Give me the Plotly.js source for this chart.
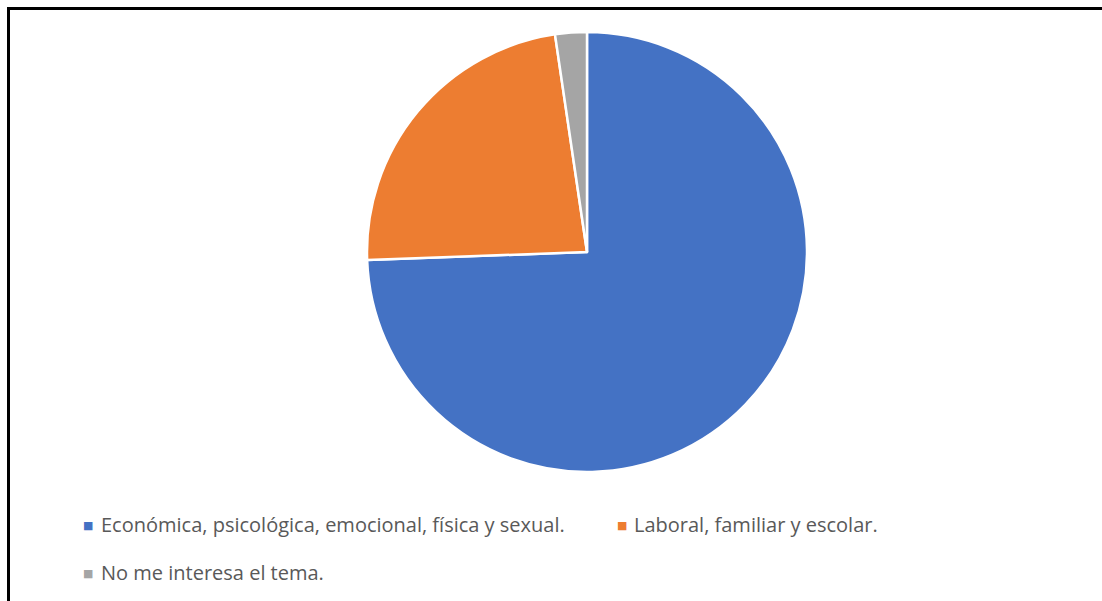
<!DOCTYPE html>
<html>
<head>
<meta charset="utf-8">
<script src="https://cdn.plot.ly/plotly-3.0.1.min.js"></script>
<style>
  html, body { margin: 0; padding: 0; background: #ffffff; overflow: hidden; }
  #chart { width: 1102px; height: 601px; }
</style>
</head>
<body>
<div id="chart"></div>
<script>
const labels = [
  "Económica, psicológica, emocional, física y sexual.",
  "Laboral, familiar y escolar.",
  "No me interesa el tema."
];
const values = [32, 10, 1];
const colors = ["#4472C4", "#ED7D31", "#A5A5A5"];

const W = 1102, H = 601;
const px = x => x / W;
const py = y => 1 - y / H;

// legend entry positions (pixels): marker x, text x, row y
const legendPos = [
  { mx: 88, tx: 99, y: 524 },
  { mx: 622, tx: 632, y: 524 },
  { mx: 88, tx: 99, y: 572 }
];

const annotations = [];
labels.forEach((lab, i) => {
  const p = legendPos[i];
  annotations.push({
    xref: "paper", yref: "paper",
    x: px(p.mx), y: py(p.y + 1),
    xanchor: "center", yanchor: "middle",
    text: "■", showarrow: false,
    font: { family: "DejaVu Sans", size: 11, color: colors[i] }
  });
  annotations.push({
    xref: "paper", yref: "paper",
    x: px(p.tx), y: py(p.y),
    xanchor: "left", yanchor: "middle",
    text: lab, showarrow: false,
    font: { family: "Open Sans, sans-serif", size: 20, color: "#595959" }
  });
});

const trace = {
  type: "pie",
  labels: labels,
  values: values,
  sort: false,
  direction: "clockwise",
  rotation: 0,
  textinfo: "none",
  hoverinfo: "label+value+percent",
  marker: { colors: colors, line: { color: "#ffffff", width: 2.5 } },
  domain: { x: [px(367), px(807)], y: [py(472), py(32)] },
  showlegend: false
};

const layout = {
  width: W, height: H,
  margin: { l: 0, r: 0, t: 0, b: 0 },
  paper_bgcolor: "#ffffff",
  plot_bgcolor: "#ffffff",
  showlegend: false,
  annotations: annotations,
  shapes: [
    { type: "line", xref: "paper", yref: "paper", x0: px(8.5), x1: 1, y0: py(8.5), y1: py(8.5), line: { color: "#000000", width: 3 } },
    { type: "line", xref: "paper", yref: "paper", x0: px(8.5), x1: px(8.5), y0: py(7), y1: 0, line: { color: "#000000", width: 3 } }
  ]
};

Plotly.newPlot("chart", [trace], layout, { displayModeBar: false, staticPlot: true });
</script>
</body>
</html>
